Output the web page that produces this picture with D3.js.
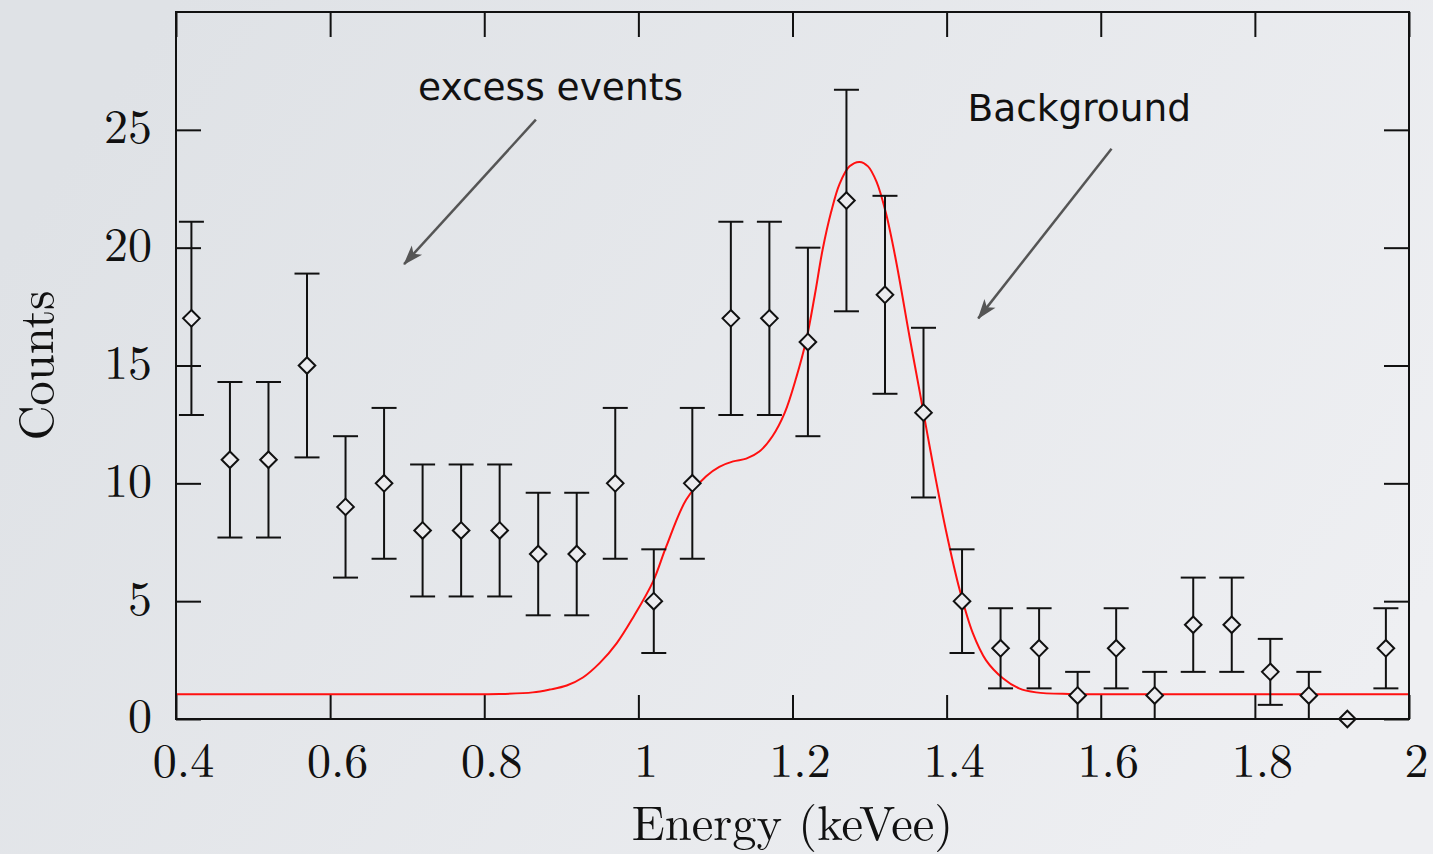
<!DOCTYPE html>
<html>
<head>
<meta charset="utf-8">
<script src="https://cdn.jsdelivr.net/npm/d3@7"></script>
<style>
  html, body { margin: 0; padding: 0; }
  body { width: 1433px; height: 854px; overflow: hidden; }
  .tick text { font-family: "Latin Modern Roman", "CMU Serif", "Liberation Serif", serif; font-size: 48px; fill: #111; }
  .title { font-family: "Latin Modern Roman", "CMU Serif", "Liberation Serif", serif; font-size: 48.5px; fill: #111; }
  .note { font-family: "DejaVu Sans", sans-serif; font-size: 37.5px; fill: #111; }
</style>
</head>
<body>
<div id="wrapper"></div>
<script>
// measured spectrum, one point per 0.05 keVee bin
const energy = [0.42, 0.47, 0.52, 0.57, 0.62, 0.67, 0.72, 0.77, 0.82, 0.87, 0.92, 0.97,
                1.02, 1.07, 1.12, 1.17, 1.22, 1.27, 1.32, 1.37, 1.42, 1.47, 1.52, 1.57,
                1.62, 1.67, 1.72, 1.77, 1.82, 1.87, 1.92, 1.97];
const counts = [17, 11, 11, 15, 9, 10, 8, 8, 8, 7, 7, 10,
                5, 10, 17, 17, 16, 22, 18, 13, 5, 3, 3, 1,
                3, 1, 4, 4, 2, 1, 0, 3];
const errors = [4.1, 3.3, 3.3, 3.9, 3.0, 3.2, 2.8, 2.8, 2.8, 2.6, 2.6, 3.2,
                2.2, 3.2, 4.1, 4.1, 4.0, 4.7, 4.2, 3.6, 2.2, 1.7, 1.7, 1.0,
                1.7, 1.0, 2.0, 2.0, 1.4, 1.0, 0, 1.7];

// background fit curve
const fitEnergy = [0.40, 0.60, 0.75, 0.82, 0.863, 0.885, 0.907, 0.928, 0.95, 0.972, 0.993, 1.019,
                   1.036, 1.062, 1.088, 1.105, 1.123, 1.14, 1.157, 1.174, 1.19, 1.205, 1.218, 1.229,
                   1.239, 1.25, 1.261, 1.274, 1.287, 1.298, 1.309, 1.321, 1.334, 1.352, 1.365, 1.382,
                   1.399, 1.417, 1.434, 1.451, 1.473, 1.494, 1.516, 1.559, 1.6, 1.8, 2.0];
const fitCounts = [1.05, 1.05, 1.05, 1.06, 1.13, 1.25, 1.42, 1.76, 2.38, 3.22, 4.3, 5.83,
                   7.3, 9.3, 10.3, 10.7, 10.93, 11.05, 11.35, 12.0, 13.0, 14.5, 16.1, 18.0,
                   19.9, 21.5, 22.7, 23.45, 23.64, 23.45, 22.8, 21.5, 19.5, 16.2, 13.9, 10.85,
                   8.02, 5.47, 3.64, 2.5, 1.73, 1.3, 1.13, 1.06, 1.05, 1.05, 1.05];

const xTicks = [0.4, 0.6, 0.8, 1, 1.2, 1.4, 1.6, 1.8, 2];
const yTicks = [0, 5, 10, 15, 20, 25];

// annotations: text anchor and arrow start/end in data units
const notes = [
    { text: "excess events", x: 0.714, y: 26.25, from: [0.867, 25.43], to: [0.696, 19.3] },
    { text: "Background", x: 1.427, y: 25.36, from: [1.614, 24.2], to: [1.441, 17.0] }
];

const dimensions = {
    width: 1433,
    height: 854,
    margin: { top: 12, right: 24, bottom: 135, left: 176 }
};
dimensions.boundedWidth = dimensions.width - dimensions.margin.left - dimensions.margin.right;
dimensions.boundedHeight = dimensions.height - dimensions.margin.top - dimensions.margin.bottom;

const wrapper = d3.select("#wrapper")
    .append("svg")
    .attr("width", dimensions.width)
    .attr("height", dimensions.height);

const defs = wrapper.append("defs");
const grad = defs.append("linearGradient")
    .attr("id", "bg")
    .attr("x1", "0").attr("y1", "0.3")
    .attr("x2", "1").attr("y2", "0.7");
grad.append("stop").attr("offset", "0").attr("stop-color", "#dfe2e6");
grad.append("stop").attr("offset", "1").attr("stop-color", "#eeeff2");

defs.append("marker")
    .attr("id", "head")
    .attr("viewBox", "-20 -8 22 16")
    .attr("refX", 0).attr("refY", 0)
    .attr("markerWidth", 22).attr("markerHeight", 16)
    .attr("markerUnits", "userSpaceOnUse")
    .attr("orient", "auto")
    .append("path")
    .attr("d", "M1,0 L-19,-7 L-14,0 L-19,7 Z")
    .attr("fill", "#555");

wrapper.append("rect")
    .attr("width", dimensions.width)
    .attr("height", dimensions.height)
    .attr("fill", "url(#bg)");

const bounds = wrapper.append("g")
    .attr("transform", `translate(${dimensions.margin.left},${dimensions.margin.top})`);

const xScale = d3.scaleLinear()
    .domain([0.4, 2])
    .range([0, dimensions.boundedWidth]);

const yScale = d3.scaleLinear()
    .domain([0, 30])
    .range([dimensions.boundedHeight, 0]);

// axes with inward ticks on all four sides
const xAxis = bounds.append("g")
    .attr("transform", `translate(0,${dimensions.boundedHeight})`)
    .call(d3.axisBottom(xScale).tickValues(xTicks).tickFormat(d => String(d))
        .tickSizeInner(-24).tickSizeOuter(0).tickPadding(24));
xAxis.selectAll("text").attr("dx", 7);

bounds.append("g")
    .call(d3.axisTop(xScale).tickValues(xTicks).tickFormat("")
        .tickSizeInner(-25).tickSizeOuter(0));

const yAxis = bounds.append("g")
    .call(d3.axisLeft(yScale).tickValues(yTicks).tickFormat(d => String(d))
        .tickSizeInner(-25).tickSizeOuter(0).tickPadding(24));
yAxis.selectAll("text").attr("dy", "0.27em");

bounds.append("g")
    .attr("transform", `translate(${dimensions.boundedWidth},0)`)
    .call(d3.axisRight(yScale).tickValues(yTicks).tickFormat("")
        .tickSizeInner(-25).tickSizeOuter(0));

bounds.selectAll(".domain").remove();
bounds.selectAll(".tick line").attr("stroke", "#111").attr("stroke-width", 2);

// fit curve
const fitData = fitEnergy.map((e, i) => ({ e, c: fitCounts[i] }));
const line = d3.line()
    .x(d => xScale(d.e))
    .y(d => yScale(d.c))
    .curve(d3.curveCatmullRom.alpha(0.5));

bounds.append("path")
    .datum(fitData)
    .attr("d", line)
    .attr("fill", "none")
    .attr("stroke", "#ff1010")
    .attr("stroke-width", 2);

// data points with error bars
const points = energy.map((e, i) => ({ e, c: counts[i], err: errors[i] }));
const capHalf = 12.5;

const point = bounds.append("g").selectAll("g")
    .data(points)
    .join("g")
    .attr("transform", d => `translate(${xScale(d.e)},0)`)
    .attr("stroke", "#111")
    .attr("stroke-width", 2)
    .attr("fill", "none");

const withErr = point.filter(d => d.err > 0);
withErr.append("line")
    .attr("y1", d => yScale(d.c + d.err))
    .attr("y2", d => yScale(d.c - d.err));
withErr.append("line")
    .attr("x1", -capHalf).attr("x2", capHalf)
    .attr("y1", d => yScale(d.c + d.err))
    .attr("y2", d => yScale(d.c + d.err));
withErr.append("line")
    .attr("x1", -capHalf).attr("x2", capHalf)
    .attr("y1", d => yScale(d.c - d.err))
    .attr("y2", d => yScale(d.c - d.err));

point.append("path")
    .attr("d", d => {
        const y = yScale(d.c), r = 8.3;
        return `M0,${y - r}L${r},${y}L0,${y + r}L${-r},${y}Z`;
    })
    .attr("fill", "#ececef");

// frame
bounds.append("rect")
    .attr("width", dimensions.boundedWidth)
    .attr("height", dimensions.boundedHeight)
    .attr("fill", "none")
    .attr("stroke", "#111")
    .attr("stroke-width", 2);

// axis titles
wrapper.append("text")
    .attr("class", "title")
    .attr("x", dimensions.margin.left + dimensions.boundedWidth / 2)
    .attr("y", 840)
    .attr("text-anchor", "middle")
    .text("Energy (keVee)");

wrapper.append("g")
    .attr("transform", `translate(53,${dimensions.margin.top + dimensions.boundedHeight / 2})`)
    .append("text")
    .attr("class", "title")
    .attr("transform", "rotate(-90)")
    .attr("text-anchor", "middle")
    .text("Counts");

// annotations
const note = bounds.append("g").selectAll("g")
    .data(notes)
    .join("g");

note.append("text")
    .attr("class", "note")
    .attr("x", d => xScale(d.x))
    .attr("y", d => yScale(d.y))
    .text(d => d.text);

note.append("line")
    .attr("x1", d => xScale(d.from[0]))
    .attr("y1", d => yScale(d.from[1]))
    .attr("x2", d => xScale(d.to[0]))
    .attr("y2", d => yScale(d.to[1]))
    .attr("stroke", "#555")
    .attr("stroke-width", 2.5)
    .attr("marker-end", "url(#head)");
</script>
</body>
</html>
